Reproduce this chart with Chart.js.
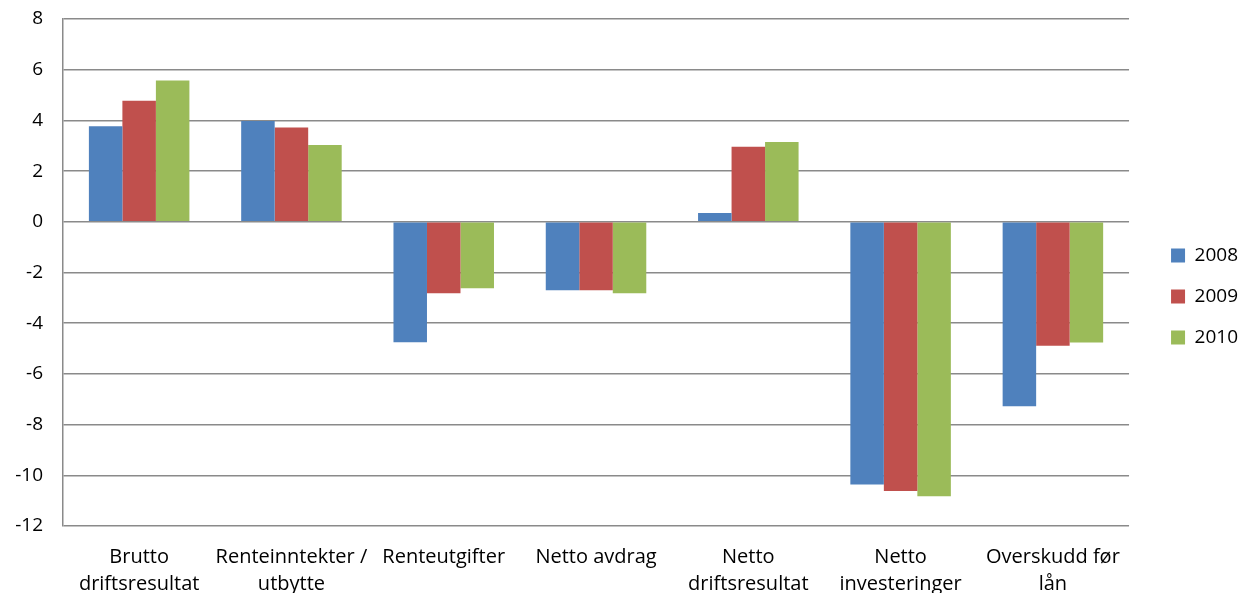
<!DOCTYPE html>
<html>
<head>
<meta charset="utf-8">
<script src="https://cdn.jsdelivr.net/npm/chart.js@4/dist/chart.umd.min.js"></script>
<style>
  html, body { margin: 0; padding: 0; background: #ffffff; }
  #wrap { width: 1242px; height: 593px; }
</style>
</head>
<body>
<div id="wrap"><canvas id="chart"></canvas></div>
<script>
// Categories (multi-line labels as arrays)
const categories = [
  ["Brutto", "driftsresultat"],
  ["Renteinntekter /", "utbytte"],
  "Renteutgifter",
  "Netto avdrag",
  ["Netto", "driftsresultat"],
  ["Netto", "investeringer"],
  ["Overskudd før", "lån"]
];

// Series values per year
const values2008 = [3.77, 3.98, -4.75, -2.70, 0.35, -10.36, -7.28];
const values2009 = [4.78, 3.72, -2.82, -2.70, 2.96, -10.62, -4.89];
const values2010 = [5.57, 3.03, -2.62, -2.82, 3.15, -10.83, -4.76];

const seriesNames = ["2008", "2009", "2010"];

// Y axis range and step
const yMin = -12;
const yMax = 8;
const yStep = 2;

const fontFamily = "'Open Sans', sans-serif";

new Chart(document.getElementById("chart"), {
  type: "bar",
  data: {
    labels: categories,
    datasets: [
      { label: seriesNames[0], data: values2008, backgroundColor: "#4F81BD" },
      { label: seriesNames[1], data: values2009, backgroundColor: "#C0504D" },
      { label: seriesNames[2], data: values2010, backgroundColor: "#9BBB59" }
    ]
  },
  options: {
    responsive: true,
    maintainAspectRatio: false,
    animation: false,
    layout: { padding: { top: 0, right: -6, bottom: 0, left: 0 } },
    datasets: {
      bar: { barPercentage: 1.0, categoryPercentage: 0.66 }
    },
    plugins: {
      tooltip: { enabled: false },
      legend: {
        position: "right",
        labels: {
          boxWidth: 14,
          boxHeight: 14,
          padding: 22,
          color: "#000000",
          font: { family: fontFamily, size: 19 }
        }
      }
    },
    scales: {
      x: {
        grid: { display: false, drawTicks: false },
        border: { display: false },
        ticks: {
          color: "#000000",
          font: { family: fontFamily, size: 20, lineHeight: 1.33 },
          padding: 18,
          maxRotation: 0,
          autoSkip: false
        },
        afterFit: (scale) => { scale.height = 67; }
      },
      y: {
        min: yMin,
        max: yMax,
        grid: { color: "#8a8a8a", lineWidth: 1.5, drawTicks: false },
        border: { display: true, color: "#8a8a8a", width: 1.5 },
        ticks: {
          stepSize: yStep,
          color: "#000000",
          font: { family: fontFamily, size: 19 },
          padding: 20
        },
        // fixed gutter on the left and 19px headroom above the plot
        afterFit: (scale) => {
          scale.width = 63;
          scale.paddingTop = 19;
          scale.paddingBottom = 0;
        }
      },
      // empty spacer between the plot and the legend
      gap: {
        type: "linear",
        position: "right",
        display: true,
        grid: { display: false, drawTicks: false },
        border: { display: false },
        ticks: { display: false },
        afterFit: (scale) => { scale.width = 20; }
      }
    }
  }
});
</script>
</body>
</html>
